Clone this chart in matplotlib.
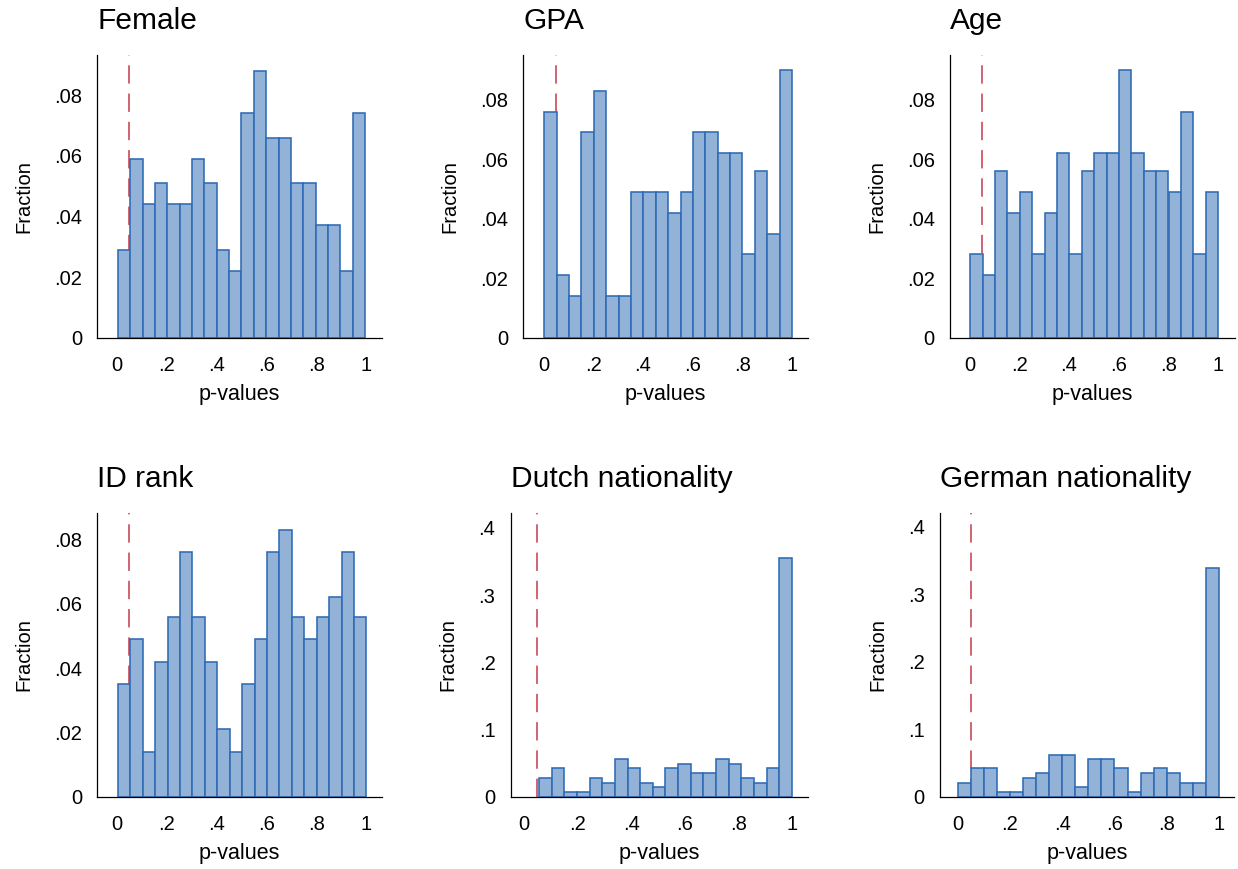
import numpy as np
import matplotlib
matplotlib.use("Agg")
import matplotlib.pyplot as plt

plt.rcParams['font.family'] = ['Liberation Sans', 'DejaVu Sans']

# ---------------- data ----------------
titles = ["Female", "GPA", "Age", "ID rank", "Dutch nationality", "German nationality"]

female_frac = [0.029, 0.059, 0.044, 0.051, 0.044, 0.044, 0.059, 0.051, 0.029, 0.022,
               0.074, 0.088, 0.066, 0.066, 0.051, 0.051, 0.037, 0.037, 0.022, 0.074]
gpa_frac = [0.076, 0.021, 0.014, 0.069, 0.083, 0.014, 0.014, 0.049, 0.049, 0.049,
            0.042, 0.049, 0.069, 0.069, 0.062, 0.062, 0.028, 0.056, 0.035, 0.090]
age_frac = [0.028, 0.021, 0.056, 0.042, 0.049, 0.028, 0.042, 0.062, 0.028, 0.056,
            0.062, 0.062, 0.090, 0.062, 0.056, 0.056, 0.049, 0.076, 0.028, 0.049]
idrank_frac = [0.035, 0.049, 0.014, 0.042, 0.056, 0.076, 0.056, 0.042, 0.021, 0.014,
               0.035, 0.049, 0.076, 0.083, 0.056, 0.049, 0.056, 0.062, 0.076, 0.056]
dutch_frac = [0.028, 0.042, 0.007, 0.007, 0.028, 0.021, 0.056, 0.042, 0.021, 0.014,
              0.042, 0.049, 0.035, 0.035, 0.056, 0.049, 0.028, 0.021, 0.042, 0.355]
german_frac = [0.021, 0.042, 0.042, 0.007, 0.007, 0.028, 0.035, 0.062, 0.062, 0.014,
               0.056, 0.056, 0.042, 0.007, 0.035, 0.042, 0.035, 0.021, 0.021, 0.338]

series = [female_frac, gpa_frac, age_frac, idrank_frac, dutch_frac, german_frac]

# range of p-values covered by the 20 bins (min, max)
p_min = [0.005, 0.003, 0.003, 0.005, 0.056, 0.000]
p_max = [0.995, 1.000, 1.000, 1.000, 1.000, 1.000]
alpha_line = 0.05

xtick_vals = [0, 0.2, 0.4, 0.6, 0.8, 1]
xtick_labels = ["0", ".2", ".4", ".6", ".8", "1"]
ytick_small = [0, 0.02, 0.04, 0.06, 0.08]
ytick_small_labels = ["0", ".02", ".04", ".06", ".08"]
ytick_large = [0, 0.1, 0.2, 0.3, 0.4]
ytick_large_labels = ["0", ".1", ".2", ".3", ".4"]

# ---------------- layout ----------------
W, H = 1238, 869
fig = plt.figure(figsize=(W / 100, H / 100), dpi=100)

def rect(l, r, t, b):
    return [l / W, 1 - b / H, (r - l) / W, (b - t) / H]

rects = [rect(97.3, 381.7, 55, 337.7), rect(523.3, 807.7, 55, 337.7), rect(950, 1235, 55, 337.7),
         rect(97.3, 381.7, 513, 796.7), rect(510.7, 807.7, 513.3, 796.7), rect(940, 1234, 513, 796.7)]
xlims = [(-0.077, 1.061), (-0.081, 1.063), (-0.078, 1.068),
         (-0.077, 1.061), (-0.050, 1.059), (-0.067, 1.057)]
ylims = [0.0932, 0.0950, 0.0950, 0.0882, 0.4217, 0.4200]

face = '#92B2D7'
edge = '#2E6BB4'
red = '#C43A4C'

for i in range(6):
    ax = fig.add_axes(rects[i])
    vals = series[i]
    edges = np.linspace(p_min[i], p_max[i], len(vals) + 1)
    ax.bar(edges[:-1], vals, width=np.diff(edges), align='edge', color=face,
           edgecolor=edge, linewidth=1.15, zorder=2)
    ax.axvline(alpha_line, color=red, lw=1.1, ls=(0, (12, 6.5)), zorder=1)
    ax.set_xlim(*xlims[i])
    ax.set_ylim(0, ylims[i])
    ax.set_xticks(xtick_vals)
    ax.set_xticklabels(xtick_labels)
    if i < 4:
        ax.set_yticks(ytick_small)
        ax.set_yticklabels(ytick_small_labels)
    else:
        ax.set_yticks(ytick_large)
        ax.set_yticklabels(ytick_large_labels)
    ax.tick_params(axis='x', length=0, pad=13, labelsize=14.5)
    ax.tick_params(axis='y', length=0, pad=11, labelsize=14.5)
    for s in ['top', 'right']:
        ax.spines[s].set_visible(False)
    for s in ['left', 'bottom']:
        ax.spines[s].set_linewidth(0.9)
        ax.spines[s].set_color('black')
    ax.set_xlabel("p-values", fontsize=15.5, labelpad=7)
    ax.set_ylabel("Fraction", fontsize=14.5, labelpad=15)
    ax.set_title(titles[i], loc='left', fontsize=21.5, pad=19)

fig.savefig("out.png", dpi=100)
